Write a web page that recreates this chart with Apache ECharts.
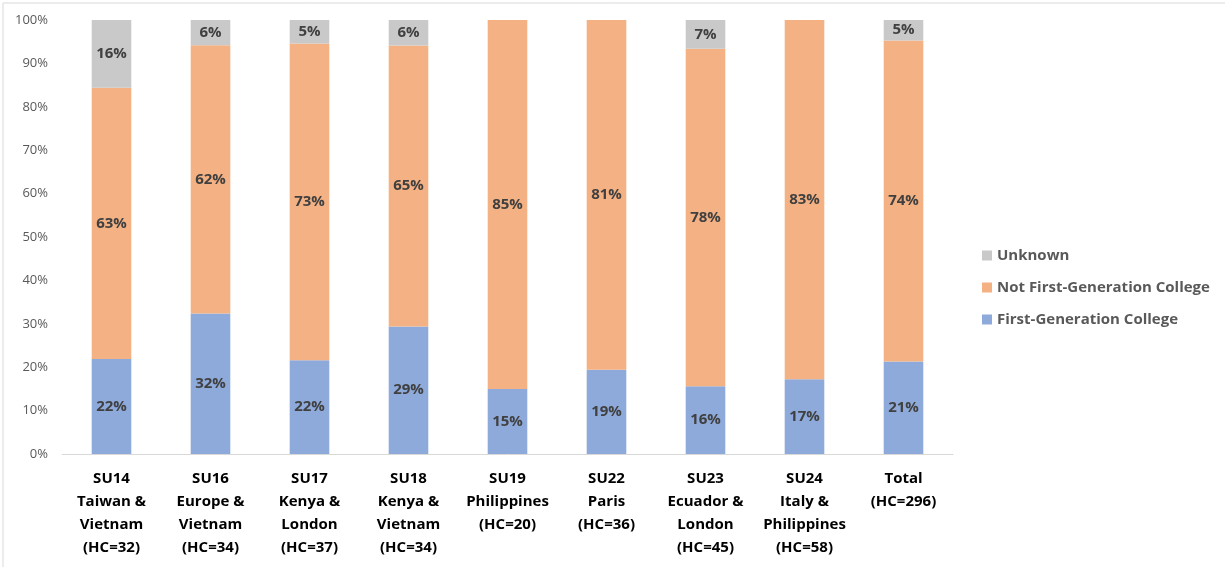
<!DOCTYPE html>
<html>
<head>
<meta charset="utf-8">
<script src="https://cdn.jsdelivr.net/npm/echarts@6/dist/echarts.min.js"></script>
<style>html,body{margin:0;padding:0;background:#fff;}#c{width:1225px;height:567px;}</style>
</head>
<body>
<div id="c"></div>
<script>
const categories = ["SU14\nTaiwan &\nVietnam\n(HC=32)", "SU16\nEurope &\nVietnam\n(HC=34)", "SU17\nKenya &\nLondon\n(HC=37)", "SU18\nKenya &\nVietnam\n(HC=34)", "SU19\nPhilippines\n(HC=20)", "SU22\nParis\n(HC=36)", "SU23\nEcuador &\nLondon\n(HC=45)", "SU24\nItaly &\nPhilippines\n(HC=58)", "Total\n(HC=296)"];
const firstGen = [21.9, 32.4, 21.6, 29.4, 15.0, 19.4, 15.6, 17.2, 21.3];
const notFirstGen = [62.5, 61.8, 73.0, 64.7, 85.0, 80.6, 77.8, 82.8, 74.0];
const unknown = [15.6, 5.9, 5.4, 5.9, 0, 0, 6.7, 0, 4.7];
const yTicks = [0, 10, 20, 30, 40, 50, 60, 70, 80, 90, 100];

const FONT = "'Open Sans', 'Liberation Sans', sans-serif";
const lbl = {
  show: true, position: 'inside', fontFamily: FONT, fontWeight: 'bold', fontSize: 15, color: '#404040',
  formatter: p => p.value > 0 ? Math.round(p.value) + '%' : ''
};
const chart = echarts.init(document.getElementById('c'), null, {renderer: 'canvas'});
chart.setOption({
  backgroundColor: '#fff',
  animation: false,
  graphic: [{type: 'rect', shape: {x: 3, y: 3, width: 1300, height: 700}, style: {fill: 'none', stroke: '#d9d9d9', lineWidth: 1}, silent: true}],
  grid: {left: 62, right: 272, top: 20, bottom: 113},
  legend: {
    orient: 'vertical', left: 977, top: 243, itemGap: 17, itemWidth: 10, itemHeight: 10,
    icon: 'rect',
    data: ['Unknown', 'Not First-Generation College', 'First-Generation College'],
    textStyle: {fontFamily: FONT, fontWeight: 'bold', fontSize: 15, color: '#595959'}
  },
  xAxis: {
    type: 'category', data: categories,
    axisLine: {lineStyle: {color: '#d9d9d9'}},
    axisTick: {show: false},
    axisLabel: {fontFamily: FONT, fontWeight: 'bold', fontSize: 15, color: '#000', lineHeight: 23, margin: 13, interval: 0}
  },
  yAxis: {
    type: 'value', min: 0, max: 100, interval: 10,
    splitLine: {show: false},
    axisLine: {show: false}, axisTick: {show: false},
    axisLabel: {fontFamily: FONT, fontSize: 13, color: '#595959', margin: 14, formatter: v => yTicks.includes(v) ? v + '%' : ''}
  },
  series: [
    {name: 'First-Generation College', type: 'bar', stack: 's', data: firstGen, barWidth: '40%', itemStyle: {color: '#8eaadb'}, label: lbl},
    {name: 'Not First-Generation College', type: 'bar', stack: 's', data: notFirstGen, itemStyle: {color: '#f4b183'}, label: lbl},
    {name: 'Unknown', type: 'bar', stack: 's', data: unknown, itemStyle: {color: '#c9c9c9'}, label: lbl}
  ]
});
</script>
</body>
</html>
